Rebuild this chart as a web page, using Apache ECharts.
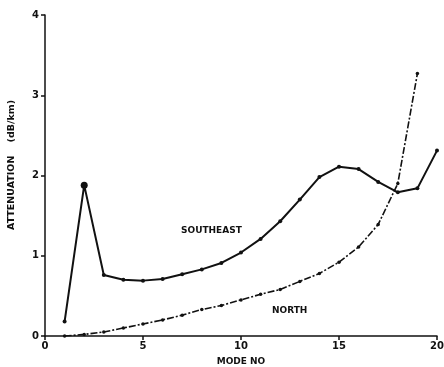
<!DOCTYPE html>
<html><head><meta charset="utf-8">
<script src="https://cdn.jsdelivr.net/npm/echarts@6/dist/echarts.min.js"></script>
<style>html,body{margin:0;padding:0;background:#fff}#c{width:444px;height:367px}</style>
</head><body><div id="c"></div>
<script>
const modes = [1,2,3,4,5,6,7,8,9,10,11,12,13,14,15,16,17,18,19,20];
const southeast = [0.18,1.88,0.76,0.70,0.69,0.71,0.77,0.83,0.91,1.04,1.21,1.43,1.70,1.98,2.11,2.08,1.92,1.79,1.84,2.31];
const northModes = [1,2,3,4,5,6,7,8,9,10,11,12,13,14,15,16,17,18,19];
const north = [0.00,0.02,0.05,0.10,0.15,0.20,0.26,0.33,0.38,0.45,0.52,0.58,0.68,0.78,0.92,1.11,1.39,1.90,3.27];
const xTicks = [0,5,10,15,20];
const yTicks = [0,1,2,3,4];

const font = '"DejaVu Sans", sans-serif';
const chart = echarts.init(document.getElementById('c'));
chart.setOption({
  animation:false,
  backgroundColor:'#fff',
  grid:{left:45,right:7,top:15,bottom:31,containLabel:false,outerBoundsMode:'none'},
  xAxis:{type:'value',min:0,max:20,interval:5,
    name:'MODE NO',nameLocation:'middle',nameGap:21,
    nameTextStyle:{color:'#111',fontFamily:font,fontWeight:'bold',fontSize:9},
    axisLine:{lineStyle:{color:'#111',width:1.5}},
    axisTick:{show:true,length:4,inside:false,lineStyle:{color:'#111',width:1.5}},
    axisLabel:{color:'#111',fontFamily:font,fontWeight:'bold',fontSize:10,margin:5},
    splitLine:{show:false}},
  yAxis:{type:'value',min:0,max:4,interval:1,
    axisLine:{show:true,lineStyle:{color:'#111',width:1.5}},
    axisTick:{show:true,length:4,lineStyle:{color:'#111',width:1.5}},
    axisLabel:{color:'#111',fontFamily:font,fontWeight:'bold',fontSize:10,margin:6},
    splitLine:{show:false}},
  series:[
    {type:'line',name:'SOUTHEAST',
     data:modes.map((m,i)=>m===2?{value:[m,southeast[i]],symbolSize:7}:[m,southeast[i]]),
     symbol:'circle',symbolSize:4,itemStyle:{color:'#111'},
     lineStyle:{color:'#111',width:2}},
    {type:'line',name:'NORTH',data:northModes.map((m,i)=>[m,north[i]]),
     symbol:'circle',symbolSize:3.5,itemStyle:{color:'#111'},
     lineStyle:{color:'#111',width:1.6,type:[7,2,2,2]}}
  ],
  graphic:[
    {type:'text',left:181,top:226,style:{text:'SOUTHEAST',fill:'#111',font:'bold 9px '+font}},
    {type:'text',left:272,top:306,style:{text:'NORTH',fill:'#111',font:'bold 9px '+font}},
    {type:'text',x:12,y:165,rotation:Math.PI/2,
     style:{text:'ATTENUATION    (dB/km)',fill:'#111',font:'bold 9.5px '+font,align:'center',verticalAlign:'middle'}}
  ]
});
</script></body></html>
